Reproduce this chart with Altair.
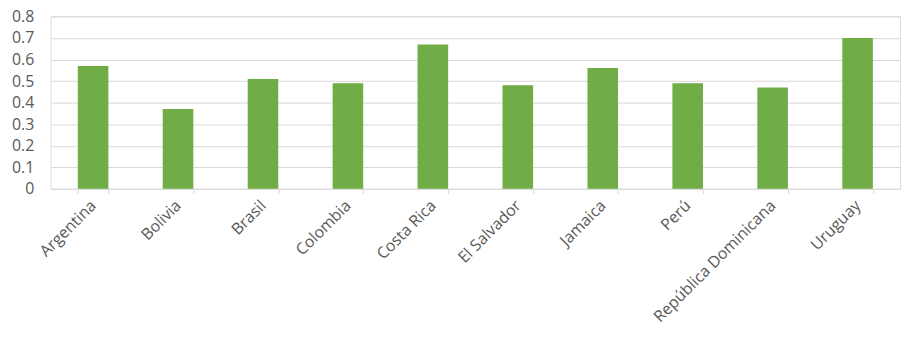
import altair as alt
import pandas as pd

countries = ["Argentina", "Bolivia", "Brasil", "Colombia", "Costa Rica",
             "El Salvador", "Jamaica", "Perú", "República Dominicana", "Uruguay"]
values = [0.57, 0.37, 0.51, 0.49, 0.67, 0.48, 0.56, 0.49, 0.47, 0.70]

df = pd.DataFrame({"country": countries, "value": values})

FONT = "Open Sans"
TXT = "#595959"
GRID = "#D9D9D9"

xscale = alt.Scale(domain=countries, paddingInner=0.64, paddingOuter=0.32)

chart = alt.Chart(df).mark_bar(color="#70AD47").encode(
    x=alt.X("country:N", sort=countries, scale=xscale, title=None,
            axis=alt.Axis(labelAngle=-45, labelAlign="right", labelBaseline="middle",
                          labelPadding=9, ticks=True, tickBand="extent", tickSize=5,
                          tickColor=GRID, domain=True, domainColor=GRID,
                          labelFont=FONT, labelFontSize=16, labelColor=TXT, grid=False)),
    y=alt.Y("value:Q", scale=alt.Scale(domain=[0, 0.8]), title=None,
            axis=alt.Axis(values=[0, 0.1, 0.2, 0.3, 0.4, 0.5, 0.6, 0.7, 0.8],
                          format="~g", domain=False, ticks=False, grid=True,
                          gridColor=GRID, gridWidth=1, labelFont=FONT,
                          labelFontSize=16, labelColor=TXT, labelPadding=17)),
).properties(
    width=857, height=174,
    autosize=alt.AutoSizeParams(type="none"),
    padding={"left": 43, "top": 7, "right": 5, "bottom": 145},
).configure_view(stroke=None).configure(background="white")

chart.save("out.html", embed_options={"renderer": "svg", "actions": False})
